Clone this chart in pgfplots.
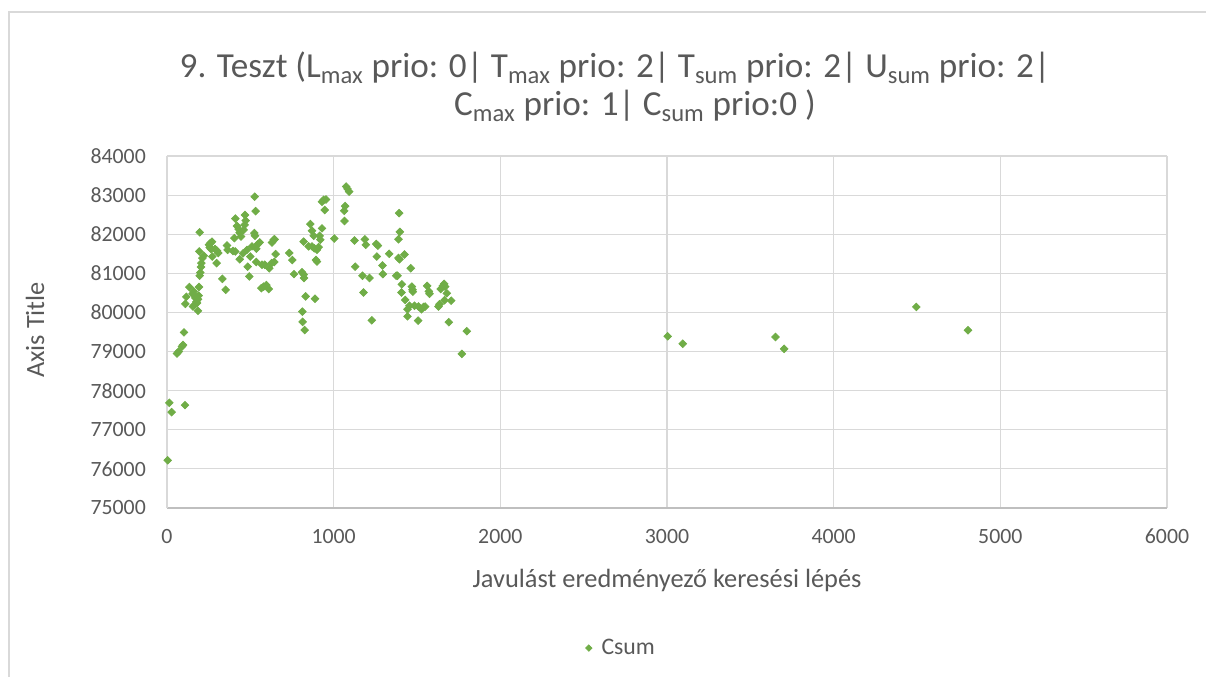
\documentclass[border=0pt]{standalone}
\usepackage{pgfplots}
\pgfplotsset{compat=1.18}
\usepackage{fontspec}
\setmainfont{Carlito}
\definecolor{csum}{HTML}{70AD47}
\definecolor{gridc}{HTML}{D9D9D9}
\definecolor{axisc}{HTML}{BFBFBF}
\definecolor{txt}{HTML}{595959}
\begin{document}
\begin{tikzpicture}
% 1 px of the reference = 0.02cm; axis lower-left at (0,0)
\useasboundingbox (-3.34,-3.38) rectangle (20.78,10.16);
\draw[gridc, line width=0.6pt] (-3.16,-4) -- (-3.16,9.92) -- (22,9.92);
\begin{axis}[
    at={(0,0)}, anchor=south west,
    width=20cm, height=7.04cm, scale only axis,
    xmin=0, xmax=6000, ymin=75000, ymax=84000,
    xtick distance=1000, ytick distance=1000,
    grid=major,
    major grid style={gridc, line width=0.65pt},
    axis x line=bottom, axis y line=left,
    x axis line style={-, axisc, line width=0.8pt},
    y axis line style={-, gridc, line width=0.65pt},
    major tick length=0pt,
    scaled x ticks=false, scaled y ticks=false,
    /pgf/number format/fixed,
    /pgf/number format/1000 sep={},
    /pgf/number format/assume math mode=true,
    tick label style={font=\fontsize{12.4}{14}\selectfont, text=txt},
    yticklabel style={xshift=-0.3cm},
    xticklabel style={yshift=-0.3cm},
    legend style={at={(0.455,-0.398)}, anchor=center, draw=none, fill=none,
        font=\fontsize{13.5}{15}\selectfont, text=txt},
    legend image post style={mark size=1.3pt},
]
\addplot[only marks, mark=square*, mark size=1.55pt,
    mark options={rotate=45, fill=csum, draw=csum}, color=csum]
coordinates {
(4,76220)(14,77690)(28,77450)(108,77630)
(60,78950)(70,79000)(90,79130)(96,79170)(102,79490)
(110,80220)(116,80400)(134,80650)(154,80480)(160,80540)
(170,80370)(176,80270)(156,80150)(164,80190)(180,80240)(186,80040)
(186,80340)(190,80430)(192,80650)
(196,80940)(200,81020)(204,81160)(206,81260)(194,81560)(196,82050)
(212,81390)(220,81450)(252,81730)(260,81770)(270,81810)
(256,81660)(264,81620)(272,81430)(288,81620)(300,81580)(308,81520)
(298,81260)(332,80860)(352,80580)(360,81710)(364,81600)
(396,81570)(410,81560)(404,81900)(410,82400)
(420,82210)(430,82130)(436,82040)(444,81940)
(468,82490)(472,82350)(466,82240)(460,82110)
(436,81360)(456,81510)(480,81600)(484,81170)(494,80920)(500,81430)
(524,82030)(528,81960)(526,82960)(532,82590)
(510,81690)(536,81630)(544,81740)(556,81790)(536,81290)
(566,80620)(580,80660)(596,80700)(610,80600)
(570,81220)(586,81220)(614,81130)(628,81260)(644,81290)(652,81490)
(630,81790)(640,81860)(646,81870)
(734,81520)(752,81340)(762,80980)
(810,81030)(820,80970)(822,80880)
(812,80020)(814,79760)(826,79550)(832,80410)(888,80350)
(820,81810)(860,82260)(870,82090)(880,81960)
(850,81690)(870,81690)(884,81640)(900,81600)(910,81670)
(894,81340)(900,81300)(916,81960)(920,81860)(930,82150)
(930,82830)(940,82880)(954,82890)(946,82620)
(1004,81890)(1063,82600)(1069,82720)(1065,82340)
(1075,83220)(1083,83160)(1093,83090)
(1125,81840)(1129,81170)(1173,80940)(1179,80510)(1215,80880)
(1187,81870)(1193,81730)(1229,79800)
(1255,81750)(1265,81710)(1259,81430)(1293,81200)(1295,80980)(1333,81500)
(1375,80940)(1383,80940)(1389,81390)(1395,81360)
(1389,81870)(1397,82060)(1393,82540)(1425,81480)(1463,81130)
(1409,80720)(1407,80510)(1429,80320)(1443,80080)(1455,80170)(1443,79900)
(1469,80660)(1473,80580)(1475,80530)
(1485,80170)(1509,80150)(1527,80080)(1539,80140)(1549,80150)(1507,79790)
(1561,80680)(1571,80540)(1575,80480)
(1629,80150)(1635,80210)
(1643,80600)(1655,80680)(1663,80730)(1669,80660)
(1679,80490)(1665,80310)(1705,80300)(1691,79750)
(1799,79520)(1769,78940)
(3004,79390)(3095,79200)(3651,79370)(3703,79070)(4496,80140)(4806,79545)
};
\addlegendentry{\hspace{0.12cm}Csum}
\end{axis}
\node[text=txt, font=\fontsize{20}{24}\selectfont] at (8.96,8.80)
  {9. Teszt (L\textsubscript{max} prio: 0| T\textsubscript{max} prio: 2| T\textsubscript{sum} prio: 2| U\textsubscript{sum} prio: 2|};
\node[text=txt, font=\fontsize{20}{24}\selectfont] at (9.36,8.04)
  {C\textsubscript{max} prio: 1| C\textsubscript{sum} prio:0 )};
\node[text=txt, font=\fontsize{15}{17}\selectfont] at (10.0,-1.44)
  {Javulást eredményező keresési lépés};
\node[text=txt, font=\fontsize{15}{17}\selectfont, rotate=90] at (-2.64,3.56)
  {Axis Title};
\end{tikzpicture}
\end{document}
